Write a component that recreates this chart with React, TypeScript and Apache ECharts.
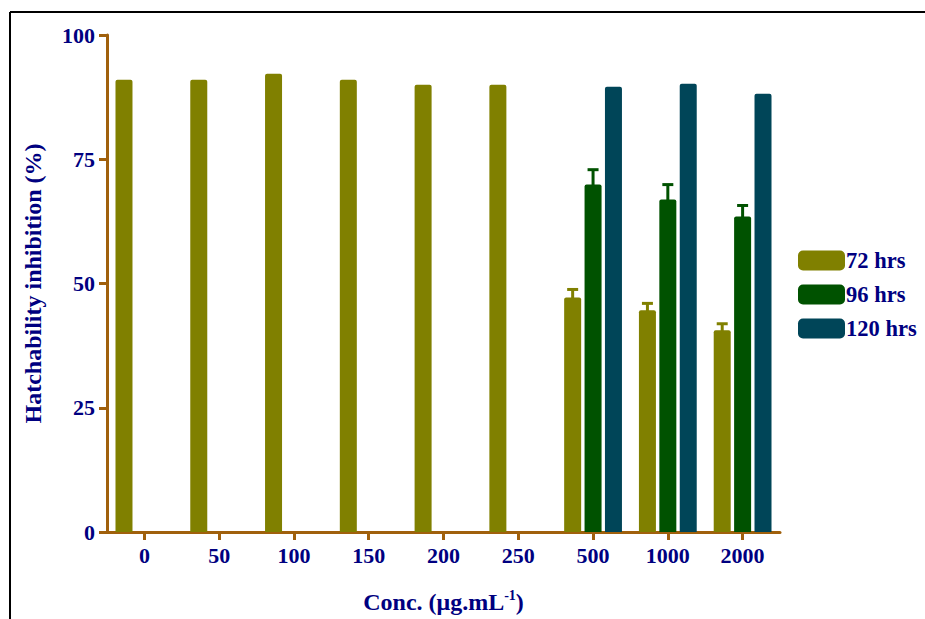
import React, { useEffect, useRef } from "react";
import * as echarts from "echarts";

const categories = ["0", "50", "100", "150", "200", "250", "500", "1000", "2000"];
const seriesNames = ["72 hrs", "96 hrs", "120 hrs"];
const hrs72 = [91.0, 91.0, 92.2, 91.0, 90.0, 90.0, 47.2, 44.6, 40.6];
const hrs96 = [null, null, null, null, null, null, 69.9, 66.9, 63.5];
const hrs120 = [null, null, null, null, null, null, 89.6, 90.2, 88.2];
const err72 = [null, null, null, null, null, null, 1.6, 1.4, 1.3];
const err96 = [null, null, null, null, null, null, 3.0, 3.0, 2.2];
const yTicks = [0, 25, 50, 75, 100];

const colors = ["#808000", "#005200", "#004558"];
const axisColor = "#a0600c";
const textColor = "#000080";
const font = "'Liberation Serif', 'Times New Roman', serif";
const BAR_W = 17;
const BAR_GAP = 0.2;

function errData(vals: (number | null)[], errs: (number | null)[]) {
  const out: number[][] = [];
  vals.forEach((v, i) => {
    const e = errs[i];
    if (v != null && e != null) out.push([i, v, e]);
  });
  return out;
}

function errSeries(vals: (number | null)[], errs: (number | null)[], idx: number) {
  const offset = (idx - 1) * BAR_W * (1 + BAR_GAP);
  return {
    type: "custom",
    silent: true,
    z: 5,
    data: errData(vals, errs),
    encode: { x: 0, y: 1 },
    renderItem: (params: any, api: any) => {
      const x = api.value(0);
      const v = api.value(1);
      const e = api.value(2);
      const base = api.coord([x, v]);
      const top = api.coord([x, v + e]);
      const cx = base[0] + offset;
      const stroke = colors[idx];
      return {
        type: "group",
        children: [
          { type: "line", shape: { x1: cx, y1: base[1] + 2, x2: cx, y2: top[1] }, style: { stroke, lineWidth: 3 } },
          { type: "line", shape: { x1: cx - 5.5, y1: top[1], x2: cx + 5.5, y2: top[1] }, style: { stroke, lineWidth: 3 } },
        ],
      };
    },
  };
}

export default function App() {
  const ref = useRef<HTMLDivElement>(null);
  useEffect(() => {
    if (!ref.current) return;
    const chart = echarts.init(ref.current, null, { renderer: "svg" });
    const barBase = {
      type: "bar",
      barWidth: BAR_W,
      barGap: `${BAR_GAP * 100}%`,
    };
    chart.setOption({
      animation: false,
      backgroundColor: "#ffffff",
      textStyle: { fontFamily: font },
      grid: { left: 107, top: 35, right: 145, bottom: 72, containLabel: false },
      legend: {
        data: seriesNames,
        orient: "vertical",
        left: 793,
        top: 244,
        itemWidth: 47,
        itemHeight: 20,
        itemGap: 11,
        icon: "roundRect",
        textStyle: { fontFamily: font, fontWeight: "bold", fontSize: 22.5, lineHeight: 20, color: textColor, padding: [0, 0, 0, -4] },
      },
      xAxis: {
        type: "category",
        data: categories,
        name: "{a|Conc. (μg.mL}{s|-1}{a|)}",
        nameLocation: "middle",
        nameGap: 56,
        nameTextStyle: {
          rich: {
            a: { fontFamily: font, fontWeight: "bold", fontSize: 24, color: textColor },
            s: { fontFamily: font, fontWeight: "bold", fontSize: 14, color: textColor, padding: [0, 0, 14, 0] },
          },
        },
        axisLine: { lineStyle: { color: axisColor, width: 3 } },
        axisTick: { show: true, alignWithLabel: true, length: 8, lineStyle: { color: axisColor, width: 3 } },
        axisLabel: { fontFamily: font, fontWeight: "bold", fontSize: 22, color: textColor, margin: 12 },
      },
      yAxis: {
        type: "value",
        min: yTicks[0],
        max: yTicks[yTicks.length - 1],
        interval: 25,
        name: "Hatchability inhibition (%)",
        nameLocation: "middle",
        nameGap: 62,
        nameRotate: 90,
        nameTextStyle: { fontFamily: font, fontWeight: "bold", fontSize: 24, color: textColor },
        splitLine: { show: false },
        axisLine: { show: true, lineStyle: { color: axisColor, width: 3 } },
        axisTick: { show: true, length: 8, lineStyle: { color: axisColor, width: 3 } },
        axisLabel: { fontFamily: font, fontWeight: "bold", fontSize: 22, color: textColor, margin: 12 },
      },
      series: [
        { ...barBase, name: seriesNames[0], data: hrs72, itemStyle: { color: colors[0], borderRadius: [2, 2, 0, 0] } },
        { ...barBase, name: seriesNames[1], data: hrs96, itemStyle: { color: colors[1], borderRadius: [2, 2, 0, 0] } },
        { ...barBase, name: seriesNames[2], data: hrs120, itemStyle: { color: colors[2], borderRadius: [2, 2, 0, 0] } },
        errSeries(hrs72, err72, 0),
        errSeries(hrs96, err96, 1),
      ],
      graphic: [
        { type: "line", shape: { x1: 10, y1: 12, x2: 925, y2: 12 }, style: { stroke: "#000", lineWidth: 2 } },
        { type: "line", shape: { x1: 10, y1: 12, x2: 10, y2: 640 }, style: { stroke: "#000", lineWidth: 2 } },
      ],
    });
    return () => chart.dispose();
  }, []);
  return (
    <div
      ref={ref}
      style={{ position: "absolute", left: 0, top: 0, width: 925, height: 619 }}
    />
  );
}
